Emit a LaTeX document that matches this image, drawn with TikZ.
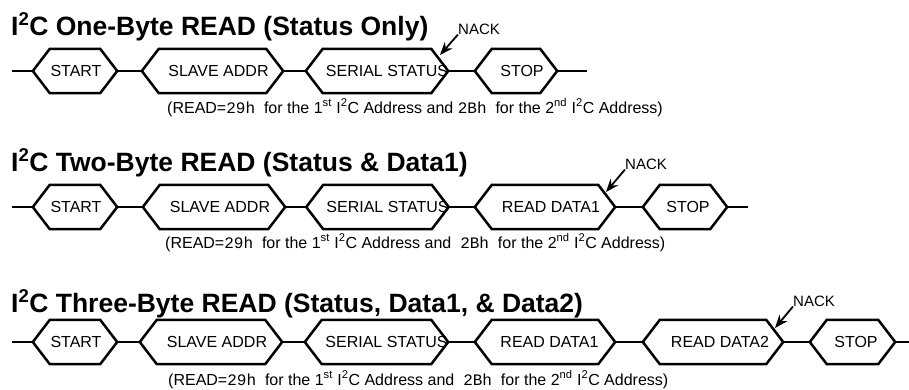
\documentclass[tikz,border=0pt]{standalone}
\usepackage{fontspec}
\setmainfont{Liberation Sans}
\newfontfamily\monof{Liberation Mono}
\usetikzlibrary{arrows.meta}
\tikzset{
  hexbox/.style={rectangle, inner sep=0pt, minimum height=44pt, font=\fontsize{16}{18}\selectfont},
  hexline/.style={line width=2.5pt, line join=miter},
  busline/.style={line width=2.5pt},
  titletext/.style={anchor=base west, inner sep=0pt, font=\bfseries\fontsize{26.5}{30}\selectfont},
  subtext/.style={anchor=base west, inner sep=0pt, font=\fontsize{16}{18}\selectfont},
  nacktext/.style={inner sep=0pt, font=\fontsize{15}{17}\selectfont},
  nackarrow/.style={line width=1.8pt, -{Stealth[length=13pt,width=10pt]}}
}
\newcommand\hexdx{17pt}
% #1 name, #2 left x, #3 right x, #4 y, #5 text, #6 text shift (double)
\newcommand\hexb[6]{%
  \node[hexbox, minimum width={(#3-#2)*1pt}] (#1) at ({(#2+#3)/2},#4) {\hspace*{#6pt}#5};
  \draw[hexline] (#1.west) -- ([xshift=\hexdx]#1.north west) -- ([xshift=-\hexdx]#1.north east)
    -- (#1.east) -- ([xshift=-\hexdx]#1.south east) -- ([xshift=\hexdx]#1.south west) -- cycle;
}
\newcommand\sub[1]{\textsuperscript{#1}}
\newcommand\mono[1]{{\monof #1}}
\begin{document}
\begin{tikzpicture}[x=1pt,y=-1pt]
\useasboundingbox (0,0) rectangle (909,389);
% ---------- Row 1 ----------
\node[titletext] (t1) at (11,35) {I\sub{2}C One-Byte READ (Status Only)};
\coordinate (a1) at (12,71);
\hexb{st1}{33}{117}{71}{START}{2}
\hexb{sa1}{142}{283}{71}{SLAVE ADDR}{12}
\hexb{ss1}{307}{447}{71}{SERIAL STATUS}{20}
\hexb{sp1}{475}{557}{71}{STOP}{12}
\coordinate (z1) at (587,71);
\draw[busline] (a1) -- (st1.west) (st1.east) -- (sa1.west) (sa1.east) -- (ss1.west)
  (ss1.east) -- (sp1.west) (sp1.east) -- (z1);
\node[nacktext] (n1) at (479,29) {NACK};
\coordinate (k1) at (440,55);
\draw[nackarrow] (n1.south west) -- (k1);
\node[subtext] (s1) at (167,113) {(READ=\mono{29h}\ \ for the 1\sub{st} I\sub{2}C Address and \mono{2Bh}\ \ for the 2\sub{nd} I\sub{2}C Address)};
% ---------- Row 2 ----------
\node[titletext] (t2) at (11,171) {I\sub{2}C Two-Byte READ (Status \& Data1)};
\coordinate (a2) at (12,207);
\hexb{st2}{33}{117}{207}{START}{2}
\hexb{sa2}{143}{285}{207}{SLAVE ADDR}{12}
\hexb{ss2}{307}{448}{207}{SERIAL STATUS}{20}
\hexb{rd2}{475}{615}{207}{READ DATA1}{12}
\hexb{sp2}{643}{727}{207}{STOP}{6}
\coordinate (z2) at (748,207);
\draw[busline] (a2) -- (st2.west) (st2.east) -- (sa2.west) (sa2.east) -- (ss2.west)
  (ss2.east) -- (rd2.west) (rd2.east) -- (sp2.west) (sp2.east) -- (z2);
\node[nacktext] (n2) at (646,164) {NACK};
\coordinate (k2) at (606,192);
\draw[nackarrow] (n2.south west) -- (k2);
\node[subtext] (s2) at (165,248) {(READ=\mono{29h}\ \ for the 1\sub{st} I\sub{2}C Address and \ \mono{2Bh}\ \ for the 2\sub{nd} I\sub{2}C Address)};
% ---------- Row 3 ----------
\node[titletext] (t3) at (11,312) {I\sub{2}C Three-Byte READ (Status, Data1, \& Data2)};
\coordinate (a3) at (12,342);
\hexb{st3}{33}{117}{342}{START}{2}
\hexb{sa3}{140}{282}{342}{SLAVE ADDR}{12}
\hexb{ss3}{305}{448}{342}{SERIAL STATUS}{20}
\hexb{rd3}{475}{615}{342}{READ DATA1}{9}
\hexb{re3}{643}{783}{342}{READ DATA2}{14}
\hexb{sp3}{810}{895}{342}{STOP}{7}
\coordinate (z3) at (909,342);
\draw[busline] (a3) -- (st3.west) (st3.east) -- (sa3.west) (sa3.east) -- (ss3.west)
  (ss3.east) -- (rd3.west) (rd3.east) -- (re3.west) (re3.east) -- (sp3.west) (sp3.east) -- (z3);
\node[nacktext] (n3) at (814,301) {NACK};
\coordinate (k3) at (775,328);
\draw[nackarrow] (n3.south west) -- (k3);
\node[subtext] (s3) at (168,385) {(READ=\mono{29h}\ \ for the 1\sub{st} I\sub{2}C Address and \ \mono{2Bh}\ \ for the 2\sub{nd} I\sub{2}C Address)};
\end{tikzpicture}
\end{document}
